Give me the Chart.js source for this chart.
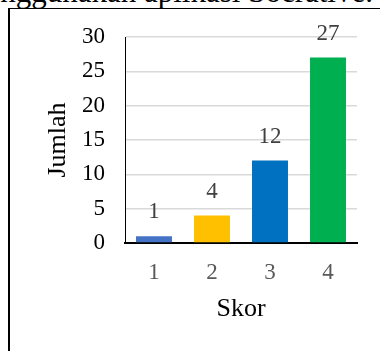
<!DOCTYPE html>
<html>
<head>
<meta charset="utf-8">
<script src="https://cdn.jsdelivr.net/npm/chart.js@4.4.1/dist/chart.umd.min.js"></script>
<style>
  html, body { margin: 0; padding: 0; background: #fff; }
  body { width: 380px; height: 351px; position: relative; overflow: hidden; }
  #caption {
    position: absolute; right: 7px; top: -24.5px;
    font: 31px/31px "Liberation Serif", "Times New Roman", serif;
    color: #000; white-space: nowrap;
  }
  #frame {
    position: absolute; left: 8px; top: 8px; width: 420px; height: 400px;
    border-top: 1.5px solid #000; border-left: 2px solid #000;
  }
  #chart { position: absolute; left: 0; top: 0; }
</style>
</head>
<body>
<div id="caption">menggunakan aplikasi Socrative.</div>
<div id="frame"></div>
<canvas id="chart" width="380" height="351"></canvas>
<script>
// Score distribution
const categories = ['1', '2', '3', '4'];
const counts = [1, 4, 12, 27];
const barColors = ['#4472C4', '#FFC000', '#0070C0', '#00B050'];
const yTicks = [0, 5, 10, 15, 20, 25, 30];
const xTitle = 'Skor';
const yTitle = 'Jumlah';

const serif = '"Liberation Serif", "Times New Roman", serif';

// Writes each bar's value above it
const valueLabels = {
  id: 'valueLabels',
  afterDatasetsDraw(chart) {
    const ctx = chart.ctx;
    const meta = chart.getDatasetMeta(0);
    ctx.save();
    ctx.font = '23px ' + serif;
    ctx.fillStyle = '#404040';
    ctx.textAlign = 'center';
    ctx.textBaseline = 'middle';
    meta.data.forEach((bar, i) => {
      ctx.fillText(String(chart.data.datasets[0].data[i]), bar.x, bar.y - 24);
    });
    ctx.restore();
  }
};

new Chart(document.getElementById('chart'), {
  type: 'bar',
  data: {
    labels: categories,
    datasets: [{
      data: counts,
      backgroundColor: barColors,
      borderWidth: 0,
      categoryPercentage: 1,
      barPercentage: 0.62
    }]
  },
  options: {
    responsive: false,
    animation: false,
    devicePixelRatio: 1,
    layout: { padding: { top: 37, right: 23, left: 0, bottom: 0 } },
    plugins: { legend: { display: false }, tooltip: { enabled: false } },
    scales: {
      x: {
        grid: { display: false, drawTicks: false },
        border: { color: '#000', width: 2 },
        ticks: { color: '#595959', font: { family: serif, size: 23 }, padding: 16 },
        title: { display: true, text: xTitle, color: '#000', font: { family: serif, size: 26 }, padding: { top: 0, bottom: 26 } },
        afterFit(scale) { scale.height = 108; }
      },
      y: {
        min: 0, max: 30,
        afterBuildTicks(scale) { scale.ticks = yTicks.map(v => ({ value: v })); },
        grid: { color: '#d9d9d9', lineWidth: 1.5, drawTicks: false },
        border: { color: '#000', width: 1 },
        ticks: { color: '#000', font: { family: serif, size: 23 }, padding: 20 },
        title: { display: true, text: yTitle, color: '#000', font: { family: serif, size: 26 }, padding: { top: 43, bottom: 0 } },
        afterFit(scale) { scale.width = 125; }
      }
    }
  },
  plugins: [valueLabels]
});
</script>
</body>
</html>
